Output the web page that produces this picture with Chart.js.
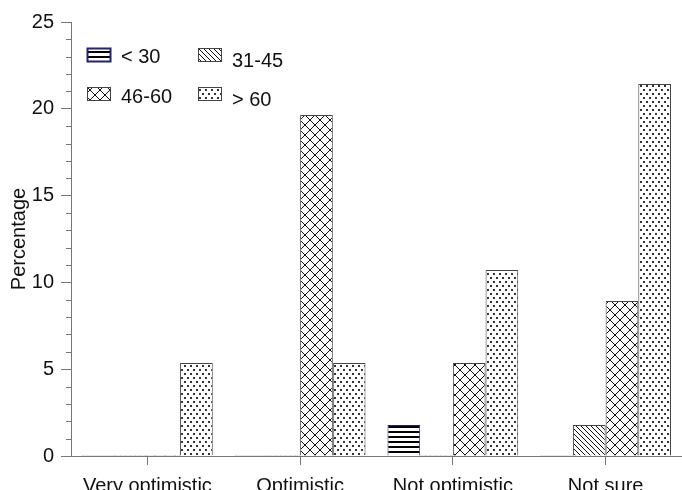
<!DOCTYPE html>
<html>
<head>
<meta charset="utf-8">
<script src="https://cdn.jsdelivr.net/npm/chart.js@4/dist/chart.umd.min.js"></script>
<style>
  html, body { margin: 0; padding: 0; background: #fff; overflow: hidden; }
  canvas { display: block; }
</style>
</head>
<body>
<canvas id="chart" width="682" height="490"></canvas>
<script>
const categories = ['Very optimistic', 'Optimistic', 'Not optimistic', 'Not sure'];
const seriesLabels = ['< 30', '31-45', '46-60', '> 60'];
const under30 = [0, 0, 1.79, 0];
const age31to45 = [0, 0, 0, 1.79];
const age46to60 = [0, 19.64, 5.36, 8.93];
const over60 = [5.36, 5.36, 10.71, 21.43];

const FONT = "'Liberation Sans', Arial, sans-serif";
const AXIS = '#777';

// hatch fills, like the old print figure
function makePattern(kind) {
    const c = document.createElement('canvas');
    const g = c.getContext('2d');
    if (kind === 'hlines') {
        c.width = 4; c.height = 5;
        g.fillStyle = '#fff'; g.fillRect(0, 0, 4, 5);
        g.fillStyle = '#000'; g.fillRect(0, 1, 4, 2);
    } else if (kind === 'diag') {
        c.width = 5; c.height = 5;
        g.fillStyle = '#fff'; g.fillRect(0, 0, 5, 5);
        g.strokeStyle = '#111'; g.lineWidth = 1;
        g.beginPath();
        g.moveTo(-1, -1); g.lineTo(6, 6);
        g.moveTo(-1, 4); g.lineTo(1, 6);
        g.moveTo(4, -1); g.lineTo(6, 1);
        g.stroke();
    } else if (kind === 'cross') {
        c.width = 10; c.height = 10;
        g.fillStyle = '#fff'; g.fillRect(0, 0, 10, 10);
        g.strokeStyle = '#111'; g.lineWidth = 1;
        g.beginPath();
        g.moveTo(0, 0); g.lineTo(10, 10);
        g.moveTo(10, 0); g.lineTo(0, 10);
        g.stroke();
    } else {
        c.width = 6; c.height = 8;
        g.fillStyle = '#fff'; g.fillRect(0, 0, 6, 8);
        g.fillStyle = '#333';
        g.fillRect(1, 1, 2, 2);
        g.fillRect(4, 5, 2, 2);
    }
    return g.createPattern(c, 'repeat');
}

const minorTicks = {
    id: 'minorTicks',
    afterDraw(chart) {
        const y = chart.scales.y;
        const ctx = chart.ctx;
        ctx.save();
        ctx.strokeStyle = AXIS;
        ctx.lineWidth = 1;
        for (let v = 0; v <= 25; v++) {
            if (v % 5 === 0) continue;
            const py = Math.round(y.getPixelForValue(v)) + 0.5;
            ctx.beginPath();
            ctx.moveTo(y.right - 5, py);
            ctx.lineTo(y.right, py);
            ctx.stroke();
        }
        ctx.restore();
    }
};

// 2 x 2 legend in the top-left corner
const gridLegend = {
    id: 'gridLegend',
    afterDraw(chart) {
        const ctx = chart.ctx;
        const spots = [
            {x: 87, y: 48, ty: 57},
            {x: 198, y: 48, ty: 61},
            {x: 87, y: 87, ty: 97},
            {x: 198, y: 87, ty: 100}
        ];
        ctx.save();
        ctx.font = '20px ' + FONT;
        ctx.textBaseline = 'middle';
        chart.data.datasets.forEach((ds, i) => {
            const s = spots[i];
            ctx.fillStyle = ds.backgroundColor;
            ctx.fillRect(s.x, s.y, 24, 14);
            ctx.strokeStyle = ds.borderColor;
            ctx.lineWidth = i === 0 ? 2 : 1;
            ctx.strokeRect(s.x + 0.5, s.y + 0.5, 23, 13);
            ctx.fillStyle = '#111';
            ctx.fillText(ds.label, s.x + 34, s.ty);
        });
        ctx.restore();
    }
};

const data = {
    labels: categories,
    datasets: [
        {label: seriesLabels[0], data: under30, backgroundColor: makePattern('hlines'), borderColor: '#23236e'},
        {label: seriesLabels[1], data: age31to45, backgroundColor: makePattern('diag'), borderColor: '#444'},
        {label: seriesLabels[2], data: age46to60, backgroundColor: makePattern('cross'), borderColor: '#444'},
        {label: seriesLabels[3], data: over60, backgroundColor: makePattern('dots'), borderColor: '#444'}
    ]
};

const config = {
    type: 'bar',
    data: data,
    options: {
        responsive: false,
        animation: false,
        layout: {
            padding: {top: 22, right: 0, left: 0, bottom: 0}
        },
        datasets: {
            bar: {
                borderWidth: 1,
                categoryPercentage: 0.856,
                barPercentage: 1,
                minBarLength: 1
            }
        },
        plugins: {
            legend: {display: false},
            tooltip: {enabled: false}
        },
        scales: {
            x: {
                offset: true,
                grid: {
                    drawOnChartArea: false,
                    offset: false,
                    tickLength: 9,
                    color: AXIS
                },
                border: {color: AXIS},
                ticks: {
                    color: '#111',
                    font: {family: FONT, size: 20},
                    padding: 9,
                    maxRotation: 0,
                    autoSkip: false
                },
                afterFit: (s) => { s.height = 34; }
            },
            y: {
                min: 0,
                max: 25,
                grid: {
                    drawOnChartArea: false,
                    tickLength: 10,
                    tickColor: (ctx) => ctx.tick && ctx.tick.value % 5 === 0 ? AXIS : 'rgba(0,0,0,0)'
                },
                border: {color: AXIS},
                ticks: {
                    stepSize: 1,
                    autoSkip: false,
                    color: '#111',
                    font: {family: FONT, size: 20},
                    padding: 7,
                    callback: (v) => v % 5 === 0 ? v : ''
                },
                title: {
                    display: true,
                    text: 'Percentage',
                    color: '#111',
                    font: {family: FONT, size: 20},
                    padding: {top: 7, bottom: 0}
                },
                afterFit: (s) => { s.width = 71; }
            }
        }
    },
    plugins: [minorTicks, gridLegend]
};

const myChart = new Chart(document.getElementById('chart').getContext('2d'), config);
</script>
</body>
</html>
